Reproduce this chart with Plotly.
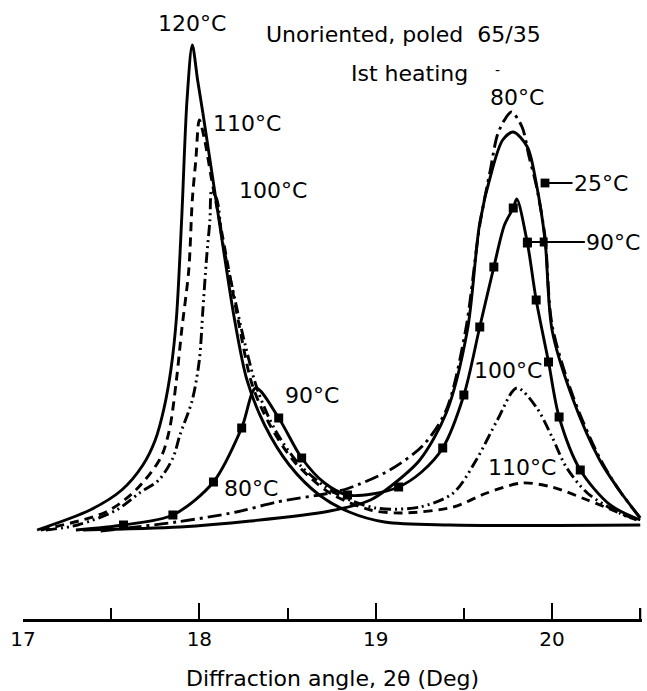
import plotly.graph_objects as go

# 2-theta (deg) and intensity (arb. units)
angle_25 = [17.34, 17.89, 18.29, 18.74, 18.97, 19.08, 19.25, 19.40, 19.52, 19.59, 19.66,
            19.72, 19.78, 19.86, 19.91, 19.96, 20.00, 20.12, 20.27, 20.38, 20.50]
int_25 = [-0.4, 0.2, 1.4, 3.4, 5.6, 8.2, 13.6, 23.0, 39.6, 61.0, 71.6,
          77.6, 79.2, 76.2, 69.0, 57.6, 39.6, 25.6, 13.6, 7.6, 2.0]

angle_80 = [17.44, 17.87, 18.21, 18.44, 18.74, 18.85, 19.08, 19.27, 19.40, 19.51, 19.59, 19.65,
            19.69, 19.73, 19.77, 19.83, 19.87, 19.91, 19.96, 20.00, 20.12, 20.27, 20.38, 20.50]
int_80 = [-0.6, 1.2, 3.2, 5.2, 7.0, 8.0, 11.6, 16.6, 23.6, 39.6, 60.6, 71.6,
          78.6, 81.6, 83.2, 80.2, 74.2, 68.6, 58.2, 40.6, 26.2, 14.0, 7.6, 2.0]

angle_90 = [17.30, 17.57, 17.85, 18.08, 18.24, 18.32, 18.45, 18.58, 18.71, 18.84, 18.98, 19.13,
            19.26, 19.38, 19.50, 19.59, 19.67, 19.73, 19.78, 19.80, 19.86, 19.91, 19.98, 20.04,
            20.16, 20.33, 20.50]
int_90 = [-0.4, 0.6, 2.6, 9.2, 20.0, 28.0, 22.0, 14.0, 9.0, 6.6, 6.8, 8.2,
          11.2, 16.0, 26.6, 40.2, 52.2, 60.6, 64.0, 65.8, 57.0, 45.6, 33.2, 22.2,
          11.6, 4.6, 1.6]
# points of the 90 C scan that carry a square symbol
square_idx_90 = [1, 2, 3, 4, 6, 7, 9, 11, 13, 14, 15, 16, 18, 20, 21, 22, 23, 24]

angle_100 = [17.13, 17.31, 17.53, 17.66, 17.77, 17.85, 17.89, 17.96, 18.00, 18.02, 18.04, 18.06,
             18.07, 18.10, 18.13, 18.19, 18.26, 18.33, 18.43, 18.57, 18.77, 19.00, 19.25, 19.44,
             19.57, 19.69, 19.80, 19.91, 20.00, 20.08, 20.20, 20.38, 20.48]
int_100 = [-0.4, 0.6, 3.6, 7.0, 9.6, 14.0, 18.6, 25.6, 33.6, 43.6, 53.6, 61.6,
           67.6, 65.6, 57.6, 47.6, 36.6, 27.6, 19.6, 12.6, 7.0, 4.0, 4.2, 7.0,
           13.6, 21.6, 28.0, 24.2, 18.2, 12.2, 7.0, 3.0, 1.6]

angle_110 = [17.10, 17.47, 17.64, 17.78, 17.83, 17.87, 17.90, 17.94, 17.96, 17.98, 18.00, 18.03,
             18.07, 18.13, 18.22, 18.30, 18.40, 18.54, 18.74, 18.97, 19.15, 19.44, 19.63, 19.83,
             20.00, 20.20, 20.48]
int_110 = [-0.4, 3.2, 7.6, 14.0, 19.6, 29.6, 39.6, 51.6, 65.6, 73.6, 81.6, 77.6,
           69.6, 58.6, 41.6, 28.6, 20.6, 13.2, 7.0, 3.6, 3.0, 4.2, 7.0, 9.0,
           8.2, 5.6, 1.6]

angle_120 = [17.08, 17.38, 17.56, 17.68, 17.75, 17.80, 17.84, 17.87, 17.90, 17.93, 17.96, 17.99,
             18.02, 18.12, 18.20, 18.27, 18.37, 18.51, 18.68, 18.85, 19.05, 19.42, 20.50]
int_120 = [-0.4, 3.6, 7.6, 12.6, 17.6, 24.0, 32.0, 42.0, 62.0, 85.6, 96.6, 89.6,
           83.0, 59.6, 41.6, 29.6, 20.6, 12.6, 6.6, 3.2, 1.2, 0.6, 0.6]

FONT = "DejaVu Sans"

fig = go.Figure()

curves = [
    (angle_120, int_120, "solid"),
    (angle_110, int_110, "9px,6px"),
    (angle_100, int_100, "11px,4px,2px,4px,2px,4px"),
    (angle_90, int_90, "solid"),
    (angle_80, int_80, "14px,5px,3px,5px"),
    (angle_25, int_25, "solid"),
]
for x, y, dash in curves:
    fig.add_trace(go.Scatter(
        x=x, y=y, mode="lines",
        line=dict(color="black", width=2.9, dash=dash, shape="spline", smoothing=0.85),
        showlegend=False, hoverinfo="skip"))

fig.add_trace(go.Scatter(
    x=[angle_90[i] for i in square_idx_90],
    y=[int_90[i] for i in square_idx_90],
    mode="markers", marker=dict(symbol="square", size=9, color="black"),
    showlegend=False, hoverinfo="skip"))

labels = [
    ("120°C", 17.96, 101.0),
    ("Unoriented, poled  65/35", 19.16, 98.8),
    ("Ist heating", 19.19, 91.0),
    ("80°C", 19.80, 86.2),
    ("110°C", 18.27, 81.0),
    ("100°C", 18.42, 67.6),
    ("90°C", 18.64, 26.6),
    ("80°C", 18.29, 8.0),
    ("100°C", 19.75, 31.6),
    ("110°C", 19.83, 12.2),
]
for text, x, y in labels:
    fig.add_annotation(x=x, y=y, text=text, showarrow=False,
                       font=dict(family=FONT, size=22, color="black"))

fig.add_annotation(x=19.69, y=91.6, text="-", showarrow=False,
                   font=dict(family=FONT, size=14, color="black"))

# pointer labels
fig.add_annotation(x=19.96, y=69.0, text="25°C", showarrow=True, ax=56, ay=0,
                   arrowhead=7, arrowsize=1.1, arrowwidth=2, arrowcolor="black",
                   font=dict(family=FONT, size=22, color="black"))
fig.add_annotation(x=19.86, y=57.2, text="90°C", showarrow=True, ax=86, ay=0,
                   arrowhead=7, arrowsize=1.1, arrowwidth=2, arrowcolor="black",
                   font=dict(family=FONT, size=22, color="black"))
fig.add_shape(type="rect", x0=19.93, x1=19.975, y0=56.3, y1=58.1,
              fillcolor="black", line=dict(width=0))

# closing tick at the right end of the axis
fig.add_shape(type="line", xref="x", yref="paper", x0=20.5, x1=20.5, y0=0, y1=11 / 619,
              line=dict(color="black", width=2))

fig.update_layout(
    width=647, height=691,
    margin=dict(l=23, r=5, t=0, b=72),
    paper_bgcolor="white", plot_bgcolor="white",
    font=dict(family=FONT, size=20, color="black"),
)
fig.update_xaxes(
    range=[17, 20.51], showgrid=False, zeroline=False,
    showline=True, linecolor="black", linewidth=2.5,
    ticks="inside", ticklen=16, tickwidth=2, tickcolor="black",
    tick0=17, dtick=1, tickfont=dict(family=FONT, size=20),
    minor=dict(dtick=0.5, tick0=17, ticks="inside", ticklen=11, tickwidth=2, tickcolor="black"),
    title=dict(text="Diffraction angle, 2θ (Deg)", font=dict(family=FONT, size=22), standoff=22),
)
fig.update_yaxes(range=[-18.2, 105.6], visible=False)

fig.write_html("out.html", config={"displayModeBar": False},
               post_script="document.body.style.margin='0';")
